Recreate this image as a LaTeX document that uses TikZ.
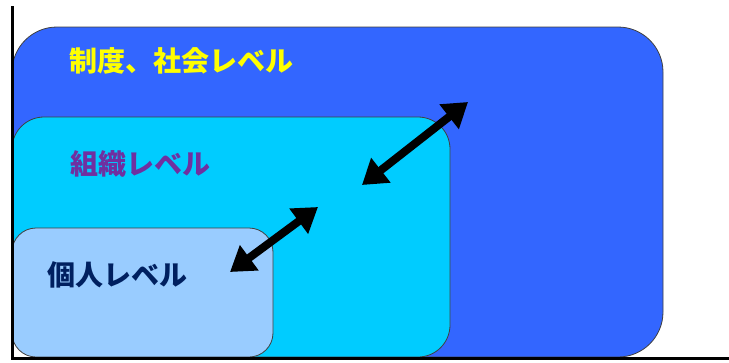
\documentclass[tikz,border=0pt]{standalone}
\usepackage{fontspec}
\newfontfamily\cjk{Noto Sans CJK JP}
\usetikzlibrary{arrows.meta}
\definecolor{outerblue}{HTML}{3366FF}
\definecolor{midblue}{HTML}{00CCFF}
\definecolor{innerblue}{HTML}{99CCFF}
\definecolor{lvlpurple}{HTML}{7030A0}
\definecolor{lvlnavy}{HTML}{002060}
\definecolor{lvlyellow}{HTML}{FFFF00}
\tikzset{
  levelbox/.style={draw=black!75, line width=0.8pt},
  lvltext/.style={font=\cjk\bfseries\fontsize{28}{32}\selectfont, inner sep=0pt},
  dblarrow/.style={line width=8pt, {Triangle[length=24pt,width=30pt]}-{Triangle[length=24pt,width=30pt]}}
}
\begin{document}
\begin{tikzpicture}[x=1pt,y=-1pt]
\useasboundingbox (0,0) rectangle (729,362);
% outer box
\path[levelbox, fill=outerblue, rounded corners=45pt] (12,357) rectangle (663,27);
% middle box
\path[levelbox, fill=midblue, rounded corners=32pt] (12,357) rectangle (450,117);
% inner box
\path[levelbox, fill=innerblue, rounded corners=24pt] (12,357) rectangle (273,228);
% axes
\coordinate (axtop) at (12,6);
\coordinate (axorig) at (12,358);
\coordinate (axright) at (729,358);
\draw[line width=3pt, black] (axtop) -- (axorig) -- (axright);
% labels
\node[lvltext, text=lvlyellow, anchor=west] (soc) at (69,61) {制度、社会レベル};
\node[lvltext, text=lvlpurple, anchor=west] (org) at (70,164) {組織レベル};
\node[lvltext, text=lvlnavy, anchor=west] (ind) at (47,275) {個人レベル};
% arrows
\coordinate (a1s) at (230,272);
\coordinate (a1e) at (318,207);
\coordinate (a2s) at (362,185);
\coordinate (a2e) at (468,102);
\draw[dblarrow] (a1s) -- (a1e);
\draw[dblarrow] (a2s) -- (a2e);
\end{tikzpicture}
\end{document}
